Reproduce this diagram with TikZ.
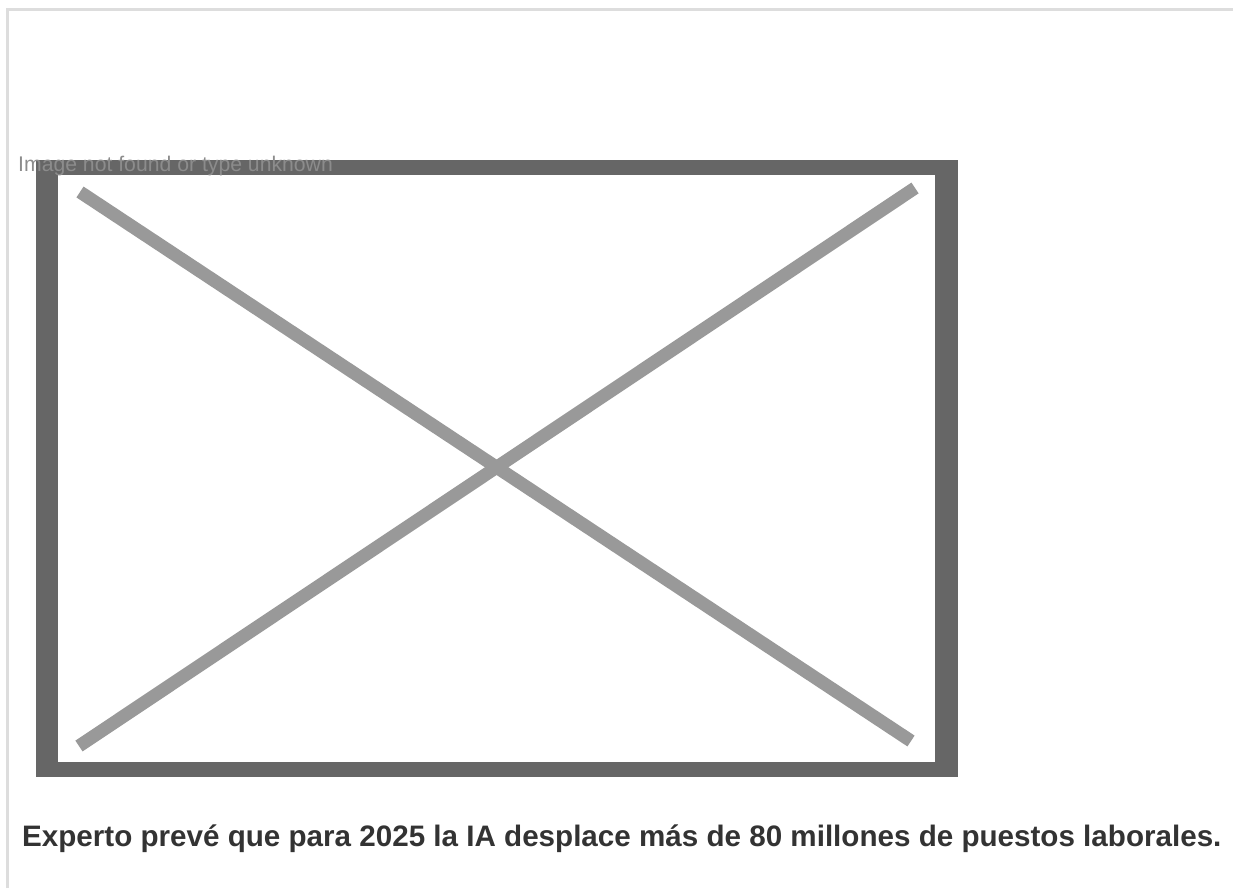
\documentclass[tikz,border=0pt]{standalone}
\usepackage{fontspec}
\setmainfont{Liberation Sans}
\usepackage{xcolor}
\definecolor{pageline}{HTML}{DDDDDD}
\definecolor{framegray}{HTML}{666666}
\definecolor{crossgray}{HTML}{999999}
\definecolor{alttext}{HTML}{8C8C8C}
\definecolor{captext}{HTML}{333333}
\tikzset{
	alt/.style={anchor=base west, inner sep=0pt, text=alttext, font=\fontsize{21.2}{25}\selectfont},
	caption/.style={anchor=base west, inner sep=0pt, text=captext, font=\bfseries\fontsize{29.6}{35}\selectfont}
}

\begin{document}
\begin{tikzpicture}[x=1pt,y=-1pt]
		\useasboundingbox (0,0) rectangle (1233,888);
		\draw [pageline, line width=3pt] (7.5,888)--(7.5,10)--(1233,10);
		\begin{scope}
			\fill [framegray] (36,160) rectangle (958,777);
			\fill [white] (58,175) rectangle (935,762);
			\draw [crossgray, line width=13pt] (80,192)--(911,741);
			\draw [crossgray, line width=13pt] (79,746)--(915,188);
		\end{scope}
		\node [alt] (alt) at (18,171) {Image not found or type unknown};
		\node [caption] (cap) at (22,846) {Experto prevé que para 2025 la IA desplace más de 80 millones de puestos laborales.};
	\end{tikzpicture}
\end{document}
